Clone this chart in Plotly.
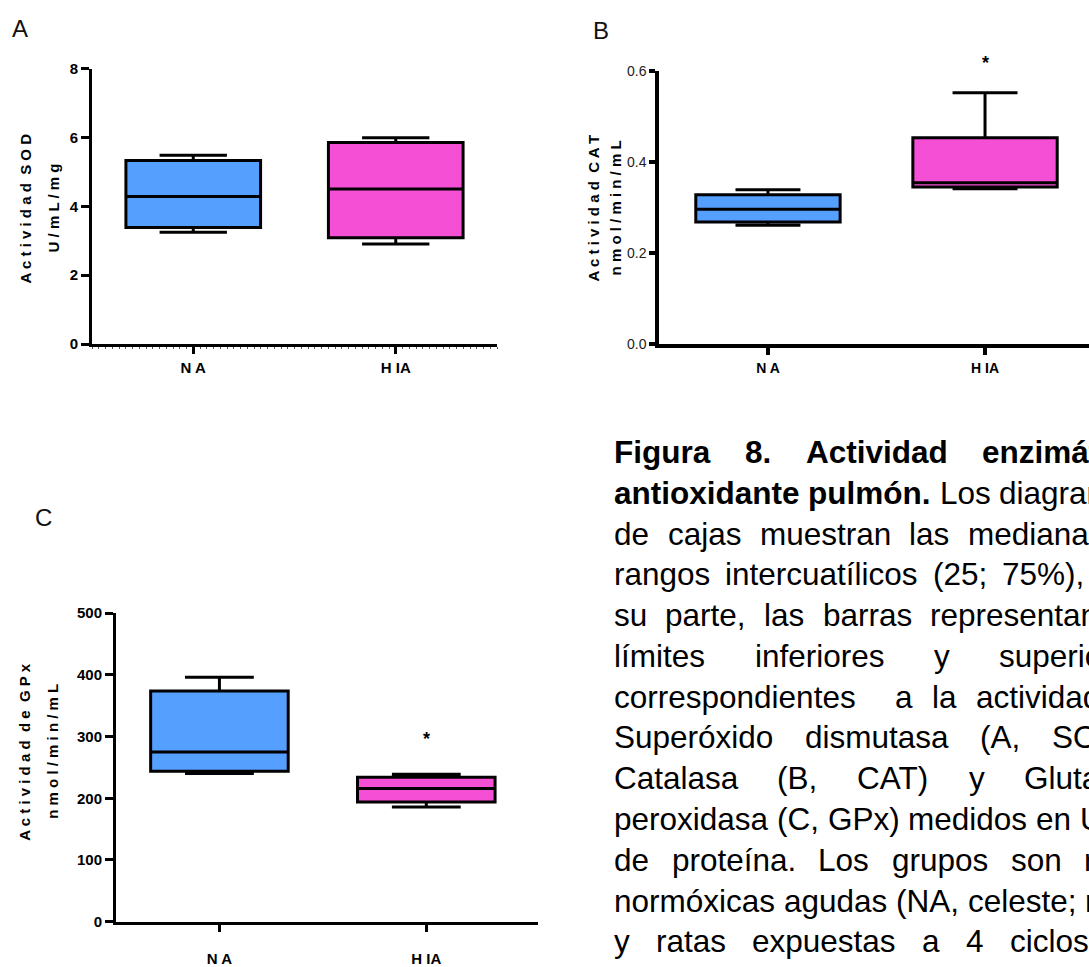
import plotly.graph_objects as go

W, H = 1089, 967

# ---- data -------------------------------------------------------------
groups = ["NA", "HIA"]
group_ticktext = ["N A", "H IA"]
group_colors = ["#559FFF", "#F54FD6"]

# Superóxido dismutasa (U/mL/mg)
sod_lower = [3.25, 2.91]
sod_q1 = [3.39, 3.09]
sod_median = [4.29, 4.51]
sod_q3 = [5.34, 5.86]
sod_upper = [5.49, 6.00]

# Catalasa (nmol/min/mL)
cat_lower = [0.261, 0.341]
cat_q1 = [0.268, 0.345]
cat_median = [0.296, 0.354]
cat_q3 = [0.328, 0.453]
cat_upper = [0.339, 0.552]

# Glutatión peroxidasa (nmol/min/mL)
gpx_lower = [240, 186]
gpx_q1 = [244, 194]
gpx_median = [275, 216]
gpx_q3 = [374, 234]
gpx_upper = [396, 239]

sod_ticks = [0, 2, 4, 6, 8]
cat_ticks = [0.0, 0.2, 0.4, 0.6]
cat_ticktext = ["0.0", "0.2", "0.4", "0.6"]
gpx_ticks = [0, 100, 200, 300, 400, 500]

FONT = "Liberation Sans, Arial, Helvetica, sans-serif"


def px_x(x):
    return x / W


def px_y(y):
    return 1 - y / H


def spaced(text):
    """GraphPad-style letter spacing for axis titles."""
    words = text.split(" ")
    return "\u00a0\u00a0".join(" ".join(list(w)) for w in words)


fig = go.Figure()

panels = [
    ("x", "y", sod_lower, sod_q1, sod_median, sod_q3, sod_upper, 0.5),
    ("x2", "y2", cat_lower, cat_q1, cat_median, cat_q3, cat_upper, 0.45),
    ("x3", "y3", gpx_lower, gpx_q1, gpx_median, gpx_q3, gpx_upper, 0.5),
]

for xa, ya, lo, q1, med, q3, hi, ww in panels:
    for i, g in enumerate(groups):
        fig.add_trace(go.Box(
            x=[i], lowerfence=[lo[i]], q1=[q1[i]], median=[med[i]],
            q3=[q3[i]], upperfence=[hi[i]],
            name=g, width=0.665, whiskerwidth=ww,
            fillcolor=group_colors[i],
            line=dict(color="black", width=3),
            boxpoints=False, showlegend=False, hoverinfo="skip",
            xaxis=xa, yaxis=ya,
        ))

axis_common = dict(
    showline=True, linecolor="black", linewidth=3,
    ticks="outside", tickcolor="black", tickwidth=3,
    showgrid=False, zeroline=False, fixedrange=True,
)

bold15 = dict(family=FONT, size=15, color="black", weight="bold")

fig.update_layout(
    width=W, height=H,
    margin=dict(l=0, r=0, t=0, b=0),
    paper_bgcolor="white", plot_bgcolor="white",
    showlegend=False,
    # Panel A - SOD
    xaxis=dict(axis_common, domain=[px_x(92), px_x(497)], range=[-0.5, 1.5],
               anchor="y", tickvals=[0, 1], ticktext=group_ticktext,
               ticklen=7, tickfont=bold15, ticklabelstandoff=1,
               minor=dict(ticks="outside", ticklen=2, tickwidth=1,
                          tickcolor="#555", tick0=-0.5, dtick=1 / 30)),
    yaxis=dict(axis_common, domain=[px_y(341), px_y(61)], range=[0, 8],
               anchor="x", tickvals=sod_ticks, ticklen=8, tickfont=bold15),
    # Panel B - CAT
    xaxis2=dict(axis_common, domain=[px_x(659), 1.0], range=[-0.502, 1.479],
                anchor="y2", tickvals=[0, 1], ticktext=group_ticktext,
                ticklen=7, linewidth=3.5, tickwidth=3.5,
                tickfont=dict(family=FONT, size=14, color="black", weight="bold"),
                ticklabelstandoff=1),
    yaxis2=dict(axis_common, domain=[px_y(341), px_y(63)], range=[0, 0.6],
                anchor="x2", tickvals=cat_ticks, ticktext=cat_ticktext,
                ticklen=6, linewidth=3.5, tickwidth=3.5,
                tickfont=dict(family=FONT, size=14, color="#222")),
    # Panel C - GPx
    xaxis3=dict(axis_common, domain=[px_x(116), px_x(538)], range=[-0.5, 1.54],
                anchor="y3", tickvals=[0, 1], ticktext=group_ticktext,
                ticklen=7, tickfont=bold15, ticklabelstandoff=14),
    yaxis3=dict(axis_common, domain=[px_y(929), px_y(615)], range=[0, 500],
                anchor="x3", tickvals=gpx_ticks, ticklen=8, tickfont=bold15),
)

ann = []

# panel letters
for letter, x, y in [("A", 20, 20), ("B", 601, 22), ("C", 43, 518)]:
    ann.append(dict(text=letter, x=px_x(x), y=px_y(y), xref="paper", yref="paper",
                    xanchor="center", yanchor="middle", showarrow=False,
                    font=dict(family=FONT, size=24, color="#111")))

# rotated axis titles (two lines each)
titles = [
    ("Actividad SOD", 25, 203), ("U/mL/mg", 53, 202),
    ("Actividad CAT", 593, 203), ("nmol/min/mL", 615, 203),
    ("Actividad de GPx", 25, 757), ("nmol/min/mL", 53, 755),
]
for t, x, y in titles:
    ann.append(dict(text=spaced(t), x=px_x(x), y=px_y(y), xref="paper", yref="paper",
                    xanchor="center", yanchor="middle", textangle=-90, showarrow=False,
                    font=dict(family=FONT, size=15, color="black", weight="bold")))

# significance marks
ann.append(dict(text="*", x=1, y=0.6, xref="x2", yref="y2", yshift=8,
                xanchor="center", yanchor="middle", showarrow=False,
                font=dict(family=FONT, size=18, color="black", weight="bold")))
ann.append(dict(text="*", x=1, y=296, xref="x3", yref="y3",
                xanchor="center", yanchor="middle", showarrow=False,
                font=dict(family=FONT, size=18, color="black", weight="bold")))

# ---- justified caption --------------------------------------------------
# Arial / Liberation Sans advance widths (1/1000 em)
REG = dict(zip(" (),.;%/0123456789", [278, 333, 333, 278, 278, 278, 889, 278] + [556] * 10))
REG.update(dict(zip("abcdefghijklmnopqrstuvwxyz",
                    [556, 556, 500, 556, 556, 278, 556, 556, 222, 222, 500, 222, 833,
                     556, 556, 556, 556, 333, 500, 278, 556, 500, 722, 500, 500, 500])))
REG.update({"á": 556, "é": 556, "í": 278, "ó": 556, "ú": 556,
            "A": 667, "B": 667, "C": 722, "D": 722, "G": 778, "L": 556, "N": 722,
            "O": 778, "P": 667, "S": 667, "T": 611, "U": 722, "F": 611})
BOLD = dict(REG)
BOLD.update(dict(zip("abcdefghijklmnopqrstuvwxyz",
                     [556, 611, 556, 611, 556, 333, 611, 611, 278, 278, 556, 278, 889,
                      611, 611, 611, 611, 389, 556, 333, 611, 556, 778, 556, 556, 500])))
BOLD.update({"á": 556, "ó": 611, "A": 722, "F": 611})

SIZE_REG, SIZE_BOLD = 31.5, 31.5
X0, Y0, LEAD = 612, 451, 41.5


def text_width(word, bold):
    table, size = (BOLD, SIZE_BOLD) if bold else (REG, SIZE_REG)
    return sum(table.get(ch, 556) for ch in word) / 1000 * size


# (line text, number of leading bold words, x of last word when justified)
caption = [
    ("Figura 8. Actividad enzimática", 4, 980),
    ("antioxidante pulmón. Los diagramas", 2, None),
    ("de cajas muestran las medianas", 0, 966),
    ("rangos intercuatílicos (25; 75%),", 0, 1000),
    ("su parte, las barras representan", 0, 928),
    ("límites inferiores y superiores", 0, 997),
    ("correspondientes  a la actividad", 0, 974),
    ("Superóxido dismutasa (A, SOD),", 0, 1050),
    ("Catalasa (B, CAT) y Glutatión", 0, 1022),
    ("peroxidasa (C, GPx) medidos en U/mg", 0, None),
    ("de proteína. Los grupos son ratas", 0, 1082),
    ("normóxicas agudas (NA, celeste; ratas", 0, None),
    ("y ratas expuestas a 4 ciclos", 0, 1008),
]

for li, (line, n_bold, x_last) in enumerate(caption):
    tokens = line.split(" ")
    words, gaps = [], []          # gaps[k] = number of spaces before word k
    pending = 0
    for tok in tokens:
        if tok == "":
            pending += 1
            continue
        gaps.append(pending if words else 0)
        words.append(tok)
        pending = 1
    bold_flags = [k < n_bold for k in range(len(words))]
    widths = [text_width(w, b) for w, b in zip(words, bold_flags)]
    if x_last is None:
        unit = [text_width(" ", b) for b in bold_flags]
        xs, x = [], X0
        for k, w in enumerate(widths):
            x += gaps[k] * unit[k - 1 if k else 0]
            xs.append(x)
            x += w
    else:
        free = x_last - X0 - sum(widths[:-1])
        sp = free / sum(gaps)
        xs, x = [], X0
        for k, w in enumerate(widths):
            x += gaps[k] * sp
            xs.append(x)
            x += w
    yc = Y0 + LEAD * li
    for word, b, x in zip(words, bold_flags, xs):
        ann.append(dict(text=word, x=px_x(x), y=px_y(yc), xref="paper", yref="paper",
                        xanchor="left", yanchor="middle", showarrow=False,
                        font=dict(family=FONT, size=SIZE_BOLD if b else SIZE_REG,
                                  color="black", weight="bold" if b else "normal")))

fig.update_layout(annotations=ann)

fig.write_html("out.html")
